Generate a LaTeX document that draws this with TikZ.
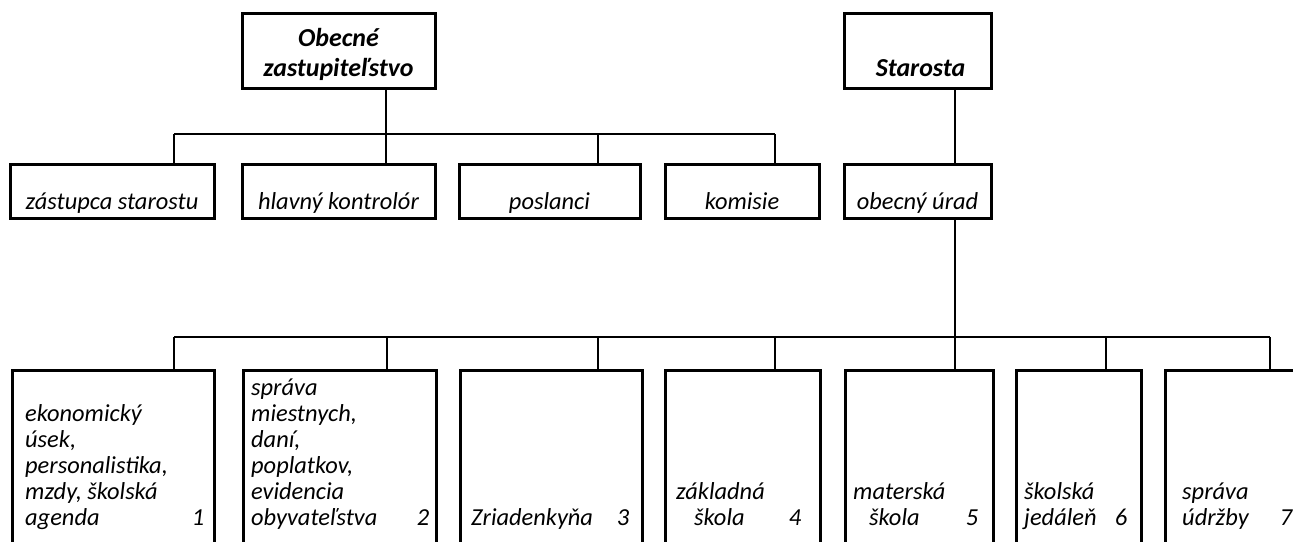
\documentclass[tikz,border=0pt]{standalone}
\usepackage{fontspec}
\setmainfont{Carlito}

\begin{document}
\begin{tikzpicture}[
  box/.style={draw,line width=3bp,rectangle,inner sep=0pt,align=center,font=\fontsize{24.5}{26}\selectfont\itshape},
  headbox/.style={box,font=\fontsize{26}{30}\selectfont\bfseries\itshape},
  unitbox/.style={draw,line width=3bp,rectangle,inner sep=0pt,anchor=north west,minimum height=200bp},
  unittext/.style={inner sep=0pt,anchor=base west,font=\fontsize{24.5}{26}\selectfont\itshape},
  link/.style={line width=2.2bp}]
\useasboundingbox (0bp,0bp) rectangle (1293bp,-542bp);
\clip (0bp,0bp) rectangle (1293bp,-542bp);
\fill[white] (0bp,0bp) rectangle (1293bp,-542bp);

\node (OZ) at (338.5bp,-50.5bp)[headbox,minimum width=193bp,minimum height=75bp] {\rule{0pt}{31bp}Obecné\\\strut zastupiteľstvo};
\node (ST) at (917.5bp,-50.5bp)[headbox,minimum width=147bp,minimum height=75bp] {\rule{0pt}{31bp}\\\strut\hspace{6bp}Starosta};

\node (ZS) at (112bp,-191bp)[box,minimum width=204bp,minimum height=54bp] {\strut\\\strut zástupca starostu};
\node (HK) at (338.5bp,-191bp)[box,minimum width=193bp,minimum height=54bp] {\strut\\\strut hlavný kontrolór};
\node (PO) at (549.5bp,-191bp)[box,minimum width=181bp,minimum height=54bp] {\strut\\\strut poslanci};
\node (KO) at (742bp,-191bp)[box,minimum width=154bp,minimum height=54bp] {\strut\\\strut komisie};
\node (OU) at (917.5bp,-191bp)[box,minimum width=147bp,minimum height=54bp] {\strut\\\strut obecný úrad};

\node (U1) at (11bp,-369bp)[unitbox,minimum width=202bp] {};
\node (U2) at (242bp,-369bp)[unitbox,minimum width=193bp] {};
\node (U3) at (459bp,-369bp)[unitbox,minimum width=182bp] {};
\node (U4) at (664bp,-369bp)[unitbox,minimum width=155bp] {};
\node (U5) at (844bp,-369bp)[unitbox,minimum width=148bp] {};
\node (U6) at (1015bp,-369bp)[unitbox,minimum width=125bp] {};
\node (U7) at (1164bp,-369bp)[unitbox,minimum width=140bp] {};

\node (T1) at (25bp,-525bp)[unittext] {\parbox[b]{179bp}{ekonomický\\úsek,\\personalistika,\\mzdy, školská\\agenda\hfill 1}};
\node (T2) at (251bp,-525bp)[unittext] {\parbox[b]{178bp}{správa\\miestnych,\\daní,\\poplatkov,\\evidencia\\obyvateľstva\hfill 2}};
\node (T3) at (471bp,-525bp)[unittext] {\parbox[b]{158bp}{Zriadenkyňa\hfill 3}};
\node (T4) at (676bp,-525bp)[unittext] {\parbox[b]{125bp}{základná\\\hspace*{18bp}škola\hfill 4}};
\node (T5) at (853bp,-525bp)[unittext] {\parbox[b]{125bp}{materská\\\hspace*{16bp}škola\hfill 5}};
\node (T6) at (1024bp,-525bp)[unittext] {\parbox[b]{103bp}{školská\\jedáleň\hfill 6}};
\node (T7) at (1182bp,-525bp)[unittext] {\parbox[b]{110bp}{správa\\údržby\hfill 7}};

\coordinate (A1) at (174bp,-134bp);
\coordinate (A2) at (386bp,-134bp);
\coordinate (A3) at (598bp,-134bp);
\coordinate (A4) at (775bp,-134bp);
\draw [link] (OZ.south -| A2) to (A2);
\draw [link] (A1) to (A4);
\foreach \a/\b in {A1/ZS,A2/HK,A3/PO,A4/KO}
  \draw [link] (\a) to (\a |- \b.north);

\coordinate (B1) at (174bp,-337bp);
\coordinate (B2) at (387bp,-337bp);
\coordinate (B3) at (598bp,-337bp);
\coordinate (B4) at (775bp,-337bp);
\coordinate (B5) at (955bp,-337bp);
\coordinate (B6) at (1106bp,-337bp);
\coordinate (B7) at (1270bp,-337bp);
\draw [link] (ST.south -| B5) to (B5 |- OU.north);
\draw [link] (OU.south -| B5) to (B5);
\draw [link] (B1) to (B7);
\foreach \b/\u in {B1/U1,B2/U2,B3/U3,B4/U4,B5/U5,B6/U6,B7/U7}
  \draw [link] (\b) to (\b |- \u.north);
\end{tikzpicture}
\end{document}
